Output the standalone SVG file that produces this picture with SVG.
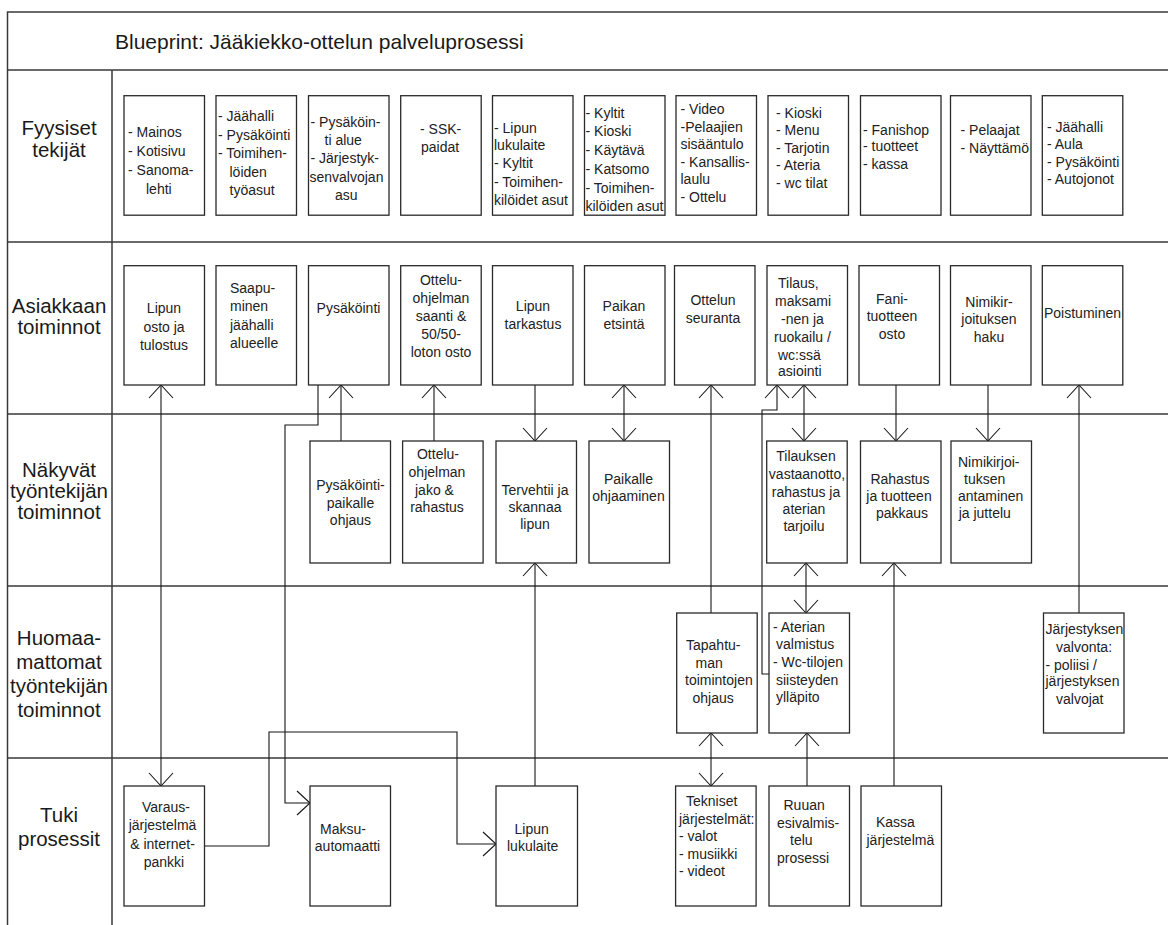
<svg xmlns="http://www.w3.org/2000/svg" width="1168" height="925" viewBox="0 0 1168 925">
<style>
.grid{stroke:#3a3a3a;stroke-width:1.5;fill:none}
.box{fill:#fff;stroke:#2a2a2a;stroke-width:1.3}
.t{font-family:"Liberation Sans",Arial,sans-serif;font-size:14px;fill:#222}
.c{text-anchor:middle}
.lab{font-family:"Liberation Sans",Arial,sans-serif;font-size:20.5px;fill:#1a1a1a;text-anchor:middle}
.title{font-family:"Liberation Sans",Arial,sans-serif;font-size:21px;fill:#1a1a1a}
.cn{fill:none;stroke:#151515;stroke-width:1.1}
</style>
<defs>
<marker id="ah" viewBox="-15 -15 30 30" refX="0" refY="0" markerWidth="30" markerHeight="30" markerUnits="userSpaceOnUse" orient="auto-start-reverse">
<path d="M-13,-12 L0,0 L-13,12" fill="none" stroke="#151515" stroke-width="1.1"/>
</marker>
</defs>
<rect width="1168" height="925" fill="#fff"/>
<g id="table">
<path class="grid" d="M7.5,925 V12 H1168 M7.5,70 H1168 M112,70 V925 M7.5,242 H1168 M7.5,414 H1168 M7.5,586 H1168 M7.5,758 H1168"/>
<text class="title" x="115" y="48.5">Blueprint: Jääkiekko-ottelun palveluprosessi</text>
<text class="lab" x="59"><tspan x="59" y="135">Fyysiset</tspan><tspan x="59" y="157">tekijät</tspan></text>
<text class="lab" x="59"><tspan x="59" y="313">Asiakkaan</tspan><tspan x="59" y="334">toiminnot</tspan></text>
<text class="lab" x="59"><tspan x="59" y="477">Näkyvät</tspan><tspan x="59" y="498">työntekijän</tspan><tspan x="59" y="519">toiminnot</tspan></text>
<text class="lab" x="59"><tspan x="59" y="645">Huomaa-</tspan><tspan x="59" y="669">mattomat</tspan><tspan x="59" y="693">työntekijän</tspan><tspan x="59" y="717">toiminnot</tspan></text>
<text class="lab" x="59"><tspan x="59" y="822">Tuki</tspan><tspan x="59" y="846">prosessit</tspan></text>
</g>
<g id="connectors">
<path class="cn" d="M161,385 V786" marker-start="url(#ah)" marker-end="url(#ah)"/>
<path class="cn" d="M341,441 V385" marker-end="url(#ah)"/>
<path class="cn" d="M318,385 V425 H285 V803 H310" marker-end="url(#ah)"/>
<path class="cn" d="M434,441 V385" marker-end="url(#ah)"/>
<path class="cn" d="M535,385 V441" marker-end="url(#ah)"/>
<path class="cn" d="M535,786 V563" marker-end="url(#ah)"/>
<path class="cn" d="M624,385 V441" marker-start="url(#ah)" marker-end="url(#ah)"/>
<path class="cn" d="M711,613 V385" marker-end="url(#ah)"/>
<path class="cn" d="M711,733 V786" marker-start="url(#ah)" marker-end="url(#ah)"/>
<path class="cn" d="M769,674 H762 V410 H777 V385" marker-end="url(#ah)"/>
<path class="cn" d="M804,385 V441" marker-start="url(#ah)" marker-end="url(#ah)"/>
<path class="cn" d="M806,563 V613" marker-start="url(#ah)" marker-end="url(#ah)"/>
<path class="cn" d="M807,786 V733" marker-end="url(#ah)"/>
<path class="cn" d="M896,385 V441" marker-end="url(#ah)"/>
<path class="cn" d="M894,786 V563" marker-end="url(#ah)"/>
<path class="cn" d="M988,385 V441" marker-end="url(#ah)"/>
<path class="cn" d="M1079,613 V385" marker-end="url(#ah)"/>
<path class="cn" d="M204,846 H269 V732 H457 V844 H496" marker-end="url(#ah)"/>
</g>
<g id="r1-mainos"><rect class="box" x="124" y="95.7" width="80.5" height="119.5"/><text class="t"><tspan x="128" y="137">- Mainos</tspan><tspan x="128" y="156">- Kotisivu</tspan><tspan x="128" y="175">- Sanoma-</tspan><tspan x="146" y="194">lehti</tspan></text></g>
<g id="r1-jaahalli"><rect class="box" x="216" y="95.7" width="80.5" height="119.5"/><text class="t"><tspan x="218" y="121">- Jäähalli</tspan><tspan x="218" y="139.5">- Pysäköinti</tspan><tspan x="218" y="158">- Toimihen-</tspan><tspan x="229.5" y="176.5">löiden</tspan><tspan x="229.5" y="195">työasut</tspan></text></g>
<g id="r1-pysakointi"><rect class="box" x="308.5" y="95.7" width="80.5" height="119.5"/><text class="t"><tspan x="310.5" y="127">- Pysäköin-</tspan><tspan x="324.5" y="145">ti alue</tspan><tspan x="310.5" y="163">- Järjestyk-</tspan><tspan x="309.5" y="181.5">senvalvojan</tspan><tspan x="335" y="200">asu</tspan></text></g>
<g id="r1-ssk"><rect class="box" x="400.7" y="95.7" width="80.5" height="119.5"/><text class="t"><tspan x="420" y="133.5">- SSK-</tspan><tspan x="421" y="152">paidat</tspan></text></g>
<g id="r1-lipun"><rect class="box" x="492.5" y="95.7" width="80.5" height="119.5"/><text class="t"><tspan x="494" y="132.5">- Lipun</tspan><tspan x="494" y="150">lukulaite</tspan><tspan x="494" y="168">- Kyltit</tspan><tspan x="494" y="187">- Toimihen-</tspan><tspan x="494" y="205">kilöidet asut</tspan></text></g>
<g id="r1-kyltit"><rect class="box" x="584.5" y="95.7" width="80.5" height="119.5"/><text class="t"><tspan x="585.5" y="117.5">- Kyltit</tspan><tspan x="585.5" y="136">- Kioski</tspan><tspan x="585.5" y="155">- Käytävä</tspan><tspan x="585.5" y="173.5">- Katsomo</tspan><tspan x="585.5" y="192.5">- Toimihen-</tspan><tspan x="585.5" y="211">kilöiden asut</tspan></text></g>
<g id="r1-video"><rect class="box" x="676" y="95.7" width="80.5" height="119.5"/><text class="t"><tspan x="680.5" y="114">- Video</tspan><tspan x="680.5" y="131.5">-Pelaajien</tspan><tspan x="680.5" y="149">sisääntulo</tspan><tspan x="680.5" y="166.5">- Kansallis-</tspan><tspan x="680.5" y="184">laulu</tspan><tspan x="680.5" y="201.5">- Ottelu</tspan></text></g>
<g id="r1-kioski"><rect class="box" x="768" y="95.7" width="80.5" height="119.5"/><text class="t"><tspan x="776" y="117.5">- Kioski</tspan><tspan x="776" y="135">- Menu</tspan><tspan x="776" y="152.5">- Tarjotin</tspan><tspan x="776" y="170">- Ateria</tspan><tspan x="776" y="187.5">- wc tilat</tspan></text></g>
<g id="r1-fanishop"><rect class="box" x="860.5" y="95.7" width="80.5" height="119.5"/><text class="t"><tspan x="863" y="134.5">- Fanishop</tspan><tspan x="863" y="151">- tuotteet</tspan><tspan x="863" y="168.5">- kassa</tspan></text></g>
<g id="r1-pelaajat"><rect class="box" x="950.5" y="95.7" width="80.5" height="119.5"/><text class="t"><tspan x="960.5" y="135">- Pelaajat</tspan><tspan x="960.5" y="153">- Näyttämö</tspan></text></g>
<g id="r1-aula"><rect class="box" x="1042.3" y="95.7" width="80.5" height="119.5"/><text class="t"><tspan x="1047" y="131.5">- Jäähalli</tspan><tspan x="1047" y="149">- Aula</tspan><tspan x="1047" y="167">- Pysäköinti</tspan><tspan x="1047" y="184">- Autojonot</tspan></text></g>
<g id="r2-lipunosto"><rect class="box" x="124" y="265.7" width="80.5" height="119.3"/><text class="t c"><tspan x="164" y="313">Lipun</tspan><tspan x="164" y="331.5">osto ja</tspan><tspan x="164" y="350">tulostus</tspan></text></g>
<g id="r2-saapuminen"><rect class="box" x="216" y="265.7" width="80.5" height="119.3"/><text class="t"><tspan x="230" y="293">Saapu-</tspan><tspan x="230" y="311">minen</tspan><tspan x="230" y="330">jäähalli</tspan><tspan x="230" y="348">alueelle</tspan></text></g>
<g id="r2-pysakointi"><rect class="box" x="308.5" y="265.7" width="80.5" height="119.3"/><text class="t c"><tspan x="348.5" y="313">Pysäköinti</tspan></text></g>
<g id="r2-otteluohjelma"><rect class="box" x="400.7" y="265.7" width="80.5" height="119.3"/><text class="t c"><tspan x="441" y="285">Ottelu-</tspan><tspan x="441" y="303">ohjelman</tspan><tspan x="441" y="321">saanti &amp;</tspan><tspan x="441" y="339">50/50-</tspan><tspan x="441" y="357">loton osto</tspan></text></g>
<g id="r2-tarkastus"><rect class="box" x="492.5" y="265.7" width="80.5" height="119.3"/><text class="t c"><tspan x="533" y="311">Lipun</tspan><tspan x="533" y="329">tarkastus</tspan></text></g>
<g id="r2-paikan"><rect class="box" x="584.5" y="265.7" width="80.5" height="119.3"/><text class="t c"><tspan x="624" y="311">Paikan</tspan><tspan x="624" y="329">etsintä</tspan></text></g>
<g id="r2-seuranta"><rect class="box" x="674.5" y="265.7" width="80.5" height="119.3"/><text class="t c"><tspan x="713" y="305">Ottelun</tspan><tspan x="713" y="323">seuranta</tspan></text></g>
<g id="r2-tilaus"><rect class="box" x="767" y="265.7" width="80.5" height="119.3"/><text class="t"><tspan x="778" y="288">Tilaus,</tspan><tspan x="775" y="306">maksami</tspan><tspan x="781" y="323.5">-nen ja</tspan><tspan x="774" y="342">ruokailu /</tspan><tspan x="778" y="360">wc:ssä</tspan><tspan x="778" y="376">asiointi</tspan></text></g>
<g id="r2-fani"><rect class="box" x="859" y="265.7" width="80.5" height="119.3"/><text class="t c"><tspan x="892" y="303.5">Fani-</tspan><tspan x="892" y="321">tuotteen</tspan><tspan x="892" y="338.5">osto</tspan></text></g>
<g id="r2-nimikirjoitus"><rect class="box" x="950.5" y="265.7" width="80.5" height="119.3"/><text class="t c"><tspan x="989" y="307">Nimikir-</tspan><tspan x="989" y="324">joituksen</tspan><tspan x="989" y="342">haku</tspan></text></g>
<g id="r2-poistuminen"><rect class="box" x="1042.3" y="265.7" width="80.5" height="119.3"/><text class="t c"><tspan x="1082.5" y="318">Poistuminen</tspan></text></g>
<g id="r3-pysakointiohjaus"><rect class="box" x="310" y="441" width="80.5" height="122"/><text class="t c"><tspan x="350.5" y="490">Pysäköinti-</tspan><tspan x="350.5" y="508">paikalle</tspan><tspan x="350.5" y="525">ohjaus</tspan></text></g>
<g id="r3-ohjelmajako"><rect class="box" x="402.6" y="441" width="80.5" height="122"/><text class="t"><tspan x="438" y="458.5" text-anchor="middle">Ottelu-</tspan><tspan x="437" y="477" text-anchor="middle">ohjelman</tspan><tspan x="415" y="495">jako &amp;</tspan><tspan x="437" y="512" text-anchor="middle">rahastus</tspan></text></g>
<g id="r3-tervehtii"><rect class="box" x="496" y="441" width="80.5" height="122"/><text class="t c"><tspan x="535" y="495">Tervehtii ja</tspan><tspan x="535" y="512">skannaa</tspan><tspan x="535" y="528.5">lipun</tspan></text></g>
<g id="r3-paikalle"><rect class="box" x="589" y="441" width="80.5" height="122"/><text class="t c"><tspan x="628.5" y="483.5">Paikalle</tspan><tspan x="628.5" y="501">ohjaaminen</tspan></text></g>
<g id="r3-tilauksen"><rect class="box" x="766.7" y="441" width="80.5" height="122"/><text class="t c"><tspan x="806" y="461">Tilauksen</tspan><tspan x="807" y="479">vastaanotto,</tspan><tspan x="806" y="497">rahastus ja</tspan><tspan x="804" y="513.5">aterian</tspan><tspan x="804" y="531">tarjoilu</tspan></text></g>
<g id="r3-rahastus"><rect class="box" x="860.5" y="441" width="80.5" height="122"/><text class="t c"><tspan x="900" y="483.5">Rahastus</tspan><tspan x="899" y="501">ja tuotteen</tspan><tspan x="902" y="518">pakkaus</tspan></text></g>
<g id="r3-nimikirjoitus"><rect class="box" x="951" y="441" width="80.5" height="122"/><text class="t"><tspan x="958" y="467">Nimikirjoi-</tspan><tspan x="964" y="483.5">tuksen</tspan><tspan x="958" y="501">antaminen</tspan><tspan x="958.7" y="518">ja juttelu</tspan></text></g>
<g id="r4-tapahtuma"><rect class="box" x="676.7" y="613" width="80.5" height="120"/><text class="t"><tspan x="686" y="650">Tapahtu-</tspan><tspan x="695.5" y="668">man</tspan><tspan x="685" y="685">toimintojen</tspan><tspan x="692.5" y="702.5">ohjaus</tspan></text></g>
<g id="r4-aterian"><rect class="box" x="769" y="613" width="80.5" height="120"/><text class="t"><tspan x="773" y="632">- Aterian</tspan><tspan x="776" y="648.5">valmistus</tspan><tspan x="773" y="667">- Wc-tilojen</tspan><tspan x="776" y="684.5">siisteyden</tspan><tspan x="776" y="702">ylläpito</tspan></text></g>
<g id="r4-jarjestys"><rect class="box" x="1043.5" y="613" width="80.5" height="120"/><text class="t"><tspan x="1045.5" y="634">Järjestyksen</tspan><tspan x="1056" y="652">valvonta:</tspan><tspan x="1045.5" y="669.5">- poliisi /</tspan><tspan x="1045.5" y="686">järjestyksen</tspan><tspan x="1056" y="703.5">valvojat</tspan></text></g>
<g id="r5-varaus"><rect class="box" x="124" y="786" width="80.5" height="120"/><text class="t c"><tspan x="166" y="812">Varaus-</tspan><tspan x="162.5" y="830">järjestelmä</tspan><tspan x="162.5" y="848.5">&amp; internet-</tspan><tspan x="164" y="867">pankki</tspan></text></g>
<g id="r5-maksu"><rect class="box" x="310" y="786" width="80.5" height="120"/><text class="t c"><tspan x="343" y="833.5">Maksu-</tspan><tspan x="347.5" y="851">automaatti</tspan></text></g>
<g id="r5-lukulaite"><rect class="box" x="496" y="786" width="81.5" height="120"/><text class="t"><tspan x="514.5" y="833.5">Lipun</tspan><tspan x="507" y="851">lukulaite</tspan></text></g>
<g id="r5-tekniset"><rect class="box" x="675.6" y="786" width="80.5" height="120"/><text class="t"><tspan x="686" y="806">Tekniset</tspan><tspan x="679" y="823.5">järjestelmät:</tspan><tspan x="679" y="841">- valot</tspan><tspan x="679" y="858.5">- musiikki</tspan><tspan x="679" y="876">- videot</tspan></text></g>
<g id="r5-ruuan"><rect class="box" x="769" y="786" width="80.5" height="120"/><text class="t"><tspan x="783.5" y="810">Ruuan</tspan><tspan x="777" y="828">esivalmis-</tspan><tspan x="790" y="845">telu</tspan><tspan x="777" y="863">prosessi</tspan></text></g>
<g id="r5-kassa"><rect class="box" x="861" y="786" width="80.5" height="120"/><text class="t"><tspan x="876" y="827">Kassa</tspan><tspan x="866.5" y="844.5">järjestelmä</tspan></text></g>
</svg>
